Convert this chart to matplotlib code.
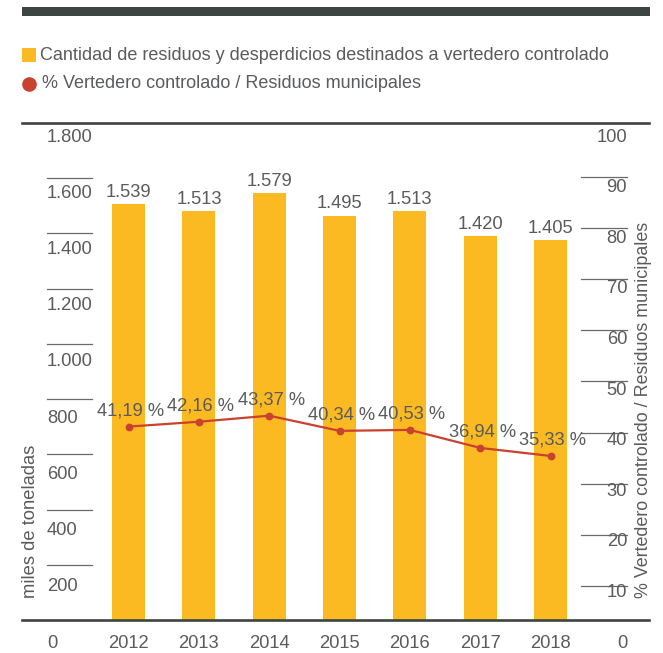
import matplotlib
matplotlib.use("Agg")
import matplotlib.pyplot as plt
import matplotlib.transforms as mtransforms
from matplotlib.patches import Rectangle
from matplotlib.lines import Line2D

plt.rcParams['font.family'] = ['Liberation Sans', 'DejaVu Sans']

years = ["2012", "2013", "2014", "2015", "2016", "2017", "2018"]
tonnes = [1539, 1513, 1579, 1495, 1513, 1420, 1405]
pct = [41.19, 42.16, 43.37, 40.34, 40.53, 36.94, 35.33]
left_ticks = [0, 200, 400, 600, 800, 1000, 1200, 1400, 1600, 1800]
right_ticks = [0, 10, 20, 30, 40, 50, 60, 70, 80, 90, 100]

TXT = '#5a5b5d'
DARK = '#3d4441'
YEL = '#FBBA21'
RED = '#C9412F'
FS = 13.2

W, H = 663, 653
fig = plt.figure(figsize=(W / 100, H / 100), dpi=100)

# top band
fig.add_artist(Rectangle((22 / W, 1 - 16 / H), 628 / W, 9 / H, transform=fig.transFigure,
                         facecolor=DARK, edgecolor='none'))

# legend
fig.add_artist(Rectangle((22 / W, 1 - 62 / H), 13.5 / W, 14 / H, transform=fig.transFigure,
                         facecolor=YEL, edgecolor='none'))
fig.text(40 / W, 1 - 55 / H, "Cantidad de residuos y desperdicios destinados a vertedero controlado",
         color=TXT, fontsize=13.0, va='center', ha='left')
fig.add_artist(Line2D([29 / W], [1 - 84 / H], marker='o', markersize=9.5, color=RED,
                      transform=fig.transFigure, linestyle='none'))
fig.text(42 / W, 1 - 84 / H, "% Vertedero controlado / Residuos municipales",
         color=TXT, fontsize=13.0, va='center', ha='left')

ax = fig.add_axes([22 / W, 33 / H, 627 / W, 497 / H])
x = list(range(len(years)))
ax.bar(x, tonnes, width=0.47, color=YEL, zorder=1)
ax.set_xlim(-1.515, 7.40)
ax.set_ylim(0, 1839)
for s in ['left', 'right']:
    ax.spines[s].set_visible(False)
for s in ['top', 'bottom']:
    ax.spines[s].set_color(DARK)
    ax.spines[s].set_linewidth(1.9)
ax.set_xticks([])
ax.set_yticks([])

for i, v in enumerate(tonnes):
    ax.annotate(f"{v:,}".replace(",", "."), (i, v), xytext=(0, 12), textcoords='offset pixels',
                ha='center', va='center', color=TXT, fontsize=FS)

blend_x = mtransforms.blended_transform_factory(ax.transData, ax.transAxes)
for i, yl in enumerate(years):
    ax.text(i, -0.0463, yl, transform=blend_x, ha='center', va='center', color=TXT,
            fontsize=FS, clip_on=False)

blend_fig = mtransforms.blended_transform_factory(fig.transFigure, ax.transAxes)
# left decor
for v in left_ticks:
    if 0 < v < 1800:
        ax.plot([47 / W, 92 / W], [v / 1800, v / 1800], transform=blend_fig, color='#6a6a6a',
                lw=0.9, clip_on=False)
    ax.text(47 / W, -0.0463 + v / 1800 * 1.0181, f"{v:,}".replace(",", "."), transform=blend_fig,
            ha='left', va='center', color=TXT, fontsize=FS, clip_on=False)
# right decor
for v in right_ticks:
    if 0 < v < 100:
        yy = -0.0352 + 0.010302 * v
        ax.plot([581 / W, 627 / W], [yy, yy], transform=blend_fig, color='#6a6a6a',
                lw=0.9, clip_on=False)
    ax.text(627 / W, -0.0463 + v / 100 * 1.0181, str(v), transform=blend_fig,
            ha='right', va='center', color=TXT, fontsize=FS, clip_on=False)

ax2 = ax.twinx()
ax2.set_ylim(2.58, 101.8)
ax2.plot(x, pct, color=RED, lw=1.6, marker='o', markersize=4.6, zorder=3)
ax2.axis('off')
for i, v in enumerate(pct):
    ax2.annotate(f"{v:.2f} %".replace(".", ","), (i, v), xytext=(2, 16), textcoords='offset pixels',
                 ha='center', va='center', color=TXT, fontsize=FS)

fig.text(31 / W, 1 - 598 / H, "miles de toneladas", rotation=90, ha='center', va='bottom',
         color=TXT, fontsize=FS)
fig.text(643 / W, 1 - 598 / H, "% Vertedero controlado / Residuos municipales", rotation=90,
         ha='center', va='bottom', color=TXT, fontsize=12.9)

fig.savefig("out.png", dpi=100)
